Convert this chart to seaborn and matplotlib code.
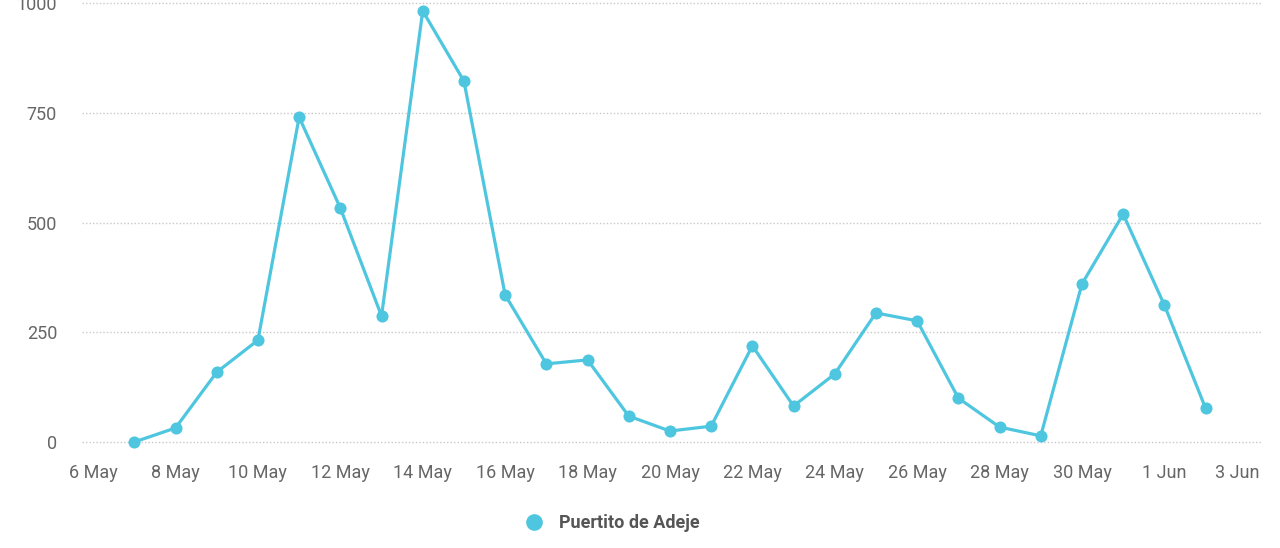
import matplotlib
matplotlib.use("Agg")
import matplotlib.pyplot as plt
import matplotlib.transforms as mtransforms
from matplotlib.lines import Line2D
import seaborn as sns
import pandas as pd

dates = pd.date_range("2020-05-07", "2020-06-02", freq="D")
values = [0, 32, 159, 232, 740, 533, 287, 982, 822, 335, 178, 187, 59, 25, 36,
          219, 82, 155, 294, 276, 100, 34, 14, 360, 519, 312, 77]
series_name = "Puertito de Adeje"
yticks = [0, 250, 500, 750, 1000]

df = pd.DataFrame({"date": dates, "value": values})

sns.set_theme(style="white")
plt.rcParams['font.family'] = ['Roboto', 'DejaVu Sans']

color = "#4fc6df"
fig = plt.figure(figsize=(12.8, 5.48), dpi=100)
ax = fig.add_axes([82/1280, 106/548, (1262-82)/1280, (442-3)/548])

sns.lineplot(data=df, x="date", y="value", ax=ax, color=color, linewidth=2.3,
             marker="o", markersize=8.7, markeredgewidth=0, clip_on=False, legend=False)

day = pd.Timedelta(days=1)
x0 = pd.Timestamp("2020-05-06")
ax.set_xlim(x0 - 0.27 * day, x0 + 28.37 * day)
ax.set_ylim(0, 1000)
ax.set_yticks(yticks)
ax.set_yticklabels([str(v) for v in yticks])

tick_dates = pd.date_range("2020-05-06", "2020-06-03", freq="2D")
ax.set_xticks(tick_dates)
ax.set_xticklabels([f"{d.day} {d.strftime('%b')}" for d in tick_dates])

ax.grid(axis="y", linestyle=(0, (1, 1.5)), color="#c8c8c8", linewidth=1)
for gl in ax.get_ygridlines():
    gl.set_clip_on(False)
ax.grid(axis="x", visible=False)
for s in ax.spines.values():
    s.set_visible(False)
ax.tick_params(axis="both", length=0, labelsize=13, labelcolor="#666666")
ax.tick_params(axis="y", pad=18)
ax.tick_params(axis="x", pad=16)
ax.set_xlabel("")
ax.set_ylabel("")

# last x label is nudged inward to fit, as in the reference
last = ax.get_xticklabels()[-1]
last.set_transform(last.get_transform() + mtransforms.ScaledTranslation(-10/100, 0, fig.dpi_scale_trans))

handle = Line2D([], [], linestyle="none", marker="o", markersize=12,
                markerfacecolor=color, markeredgewidth=0)
fig.legend([handle], [series_name], loc="center", bbox_to_anchor=(608/1280, 1 - 523/548),
           frameon=False, prop={"weight": "bold", "size": 13}, labelcolor="#555555",
           handletextpad=0.4)

fig.savefig("out.png", dpi=100)
